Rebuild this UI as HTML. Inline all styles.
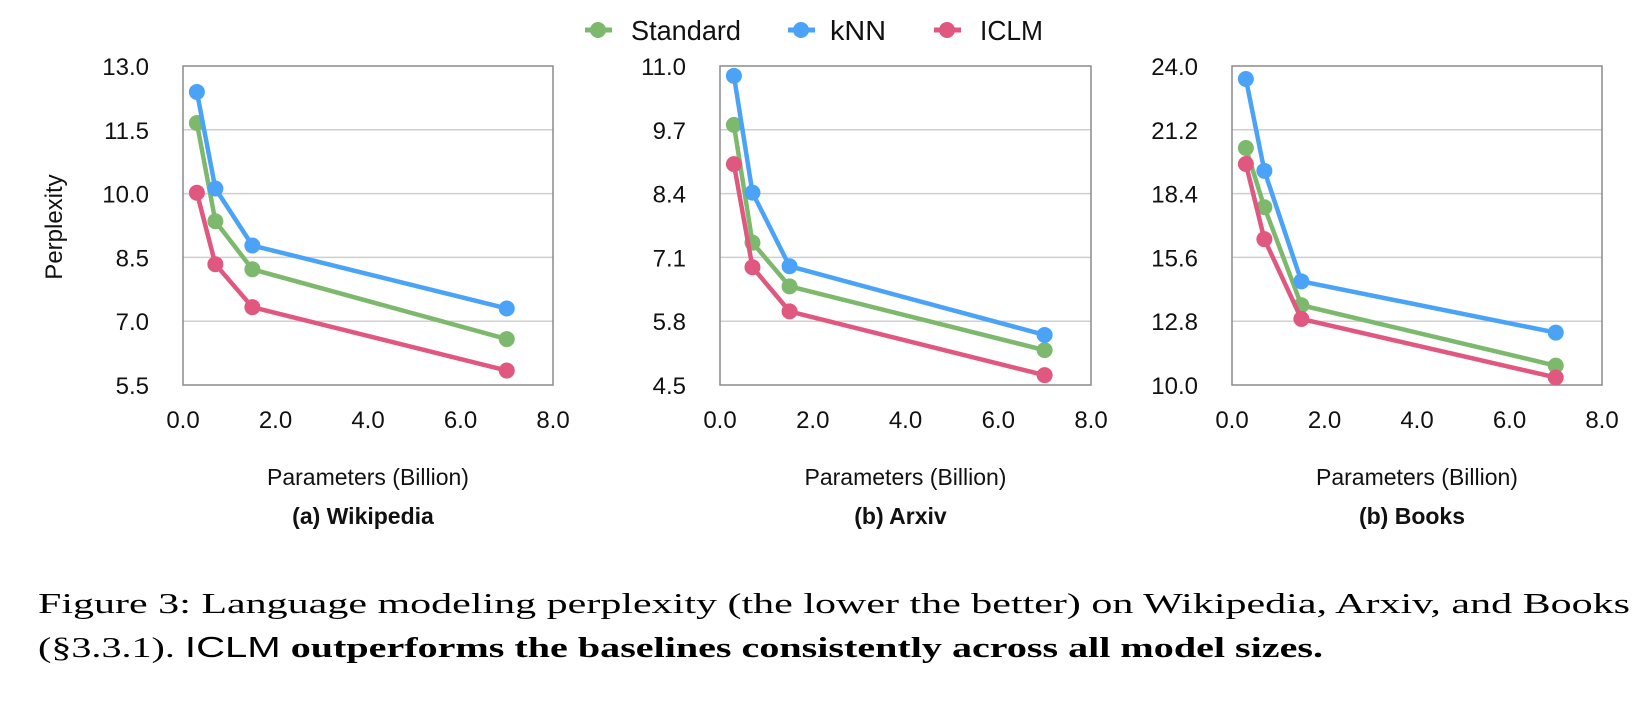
<!DOCTYPE html>
<html><head><meta charset="utf-8"><style>
html,body{margin:0;padding:0;background:#fff;}
svg{display:block;font-family:"Liberation Sans",sans-serif;}
</style></head><body>
<svg id="fig" width="1650" height="711" viewBox="0 0 1650 711" xmlns="http://www.w3.org/2000/svg">
<g>
  <g>
    <line x1="585" y1="30" x2="612" y2="30" stroke="#7db96d" stroke-width="5"/><circle cx="598" cy="30" r="8" fill="#7db96d"/>
    <text x="631" y="40" font-size="28" fill="#111" textLength="110" lengthAdjust="spacingAndGlyphs">Standard</text>
  </g>
  <g>
    <line x1="788" y1="30" x2="815" y2="30" stroke="#4aa3f7" stroke-width="5"/><circle cx="801" cy="30" r="8" fill="#4aa3f7"/>
    <text x="830" y="40" font-size="28" fill="#111" textLength="56" lengthAdjust="spacingAndGlyphs">kNN</text>
  </g>
  <g>
    <line x1="934" y1="30" x2="961" y2="30" stroke="#e0577f" stroke-width="5"/><circle cx="947" cy="30" r="8" fill="#e0577f"/>
    <text x="980" y="40" font-size="28" fill="#111" textLength="63" lengthAdjust="spacingAndGlyphs">ICLM</text>
  </g>
</g>
<text transform="translate(62,227) rotate(-90)" text-anchor="middle" font-size="24" fill="#111">Perplexity</text>
<g font-family="Liberation Serif, serif" font-size="29" fill="#000">
  <text x="38" y="613" textLength="1592" lengthAdjust="spacingAndGlyphs">Figure 3: Language modeling perplexity (the lower the better) on Wikipedia, Arxiv, and Books</text>
  <text x="38" y="657" textLength="1285" lengthAdjust="spacingAndGlyphs">(§3.3.1). <tspan font-family="Liberation Sans, sans-serif">ICLM</tspan> <tspan font-weight="bold">outperforms the baselines consistently across all model sizes.</tspan></text>
</g>
</svg>
<script>
const xValues = [0.3, 0.7, 1.5, 7];
const xTicks = ["0.0","2.0","4.0","6.0","8.0"];
const wikiTicks = ["5.5","7.0","8.5","10.0","11.5","13.0"];
const wikiStandard = [11.66, 9.35, 8.22, 6.58];
const wikiKnn = [12.39, 10.12, 8.78, 7.30];
const wikiIclm = [10.02, 8.34, 7.33, 5.84];
const arxivTicks = ["4.5","5.8","7.1","8.4","9.7","11.0"];
const arxivStandard = [9.8, 7.4, 6.51, 5.21];
const arxivKnn = [10.8, 8.42, 6.92, 5.52];
const arxivIclm = [9.0, 6.9, 6.0, 4.7];
const booksTicks = ["10.0","12.8","15.6","18.4","21.2","24.0"];
const booksStandard = [20.4, 17.8, 13.5, 10.85];
const booksKnn = [23.43, 19.4, 14.55, 12.3];
const booksIclm = [19.7, 16.4, 12.9, 10.33];
const titles = ["(a) Wikipedia","(b) Arxiv","(b) Books"];

const NS = "http://www.w3.org/2000/svg";
const svg = document.getElementById("fig");
function mk(tag, attrs, parent){const e=document.createElementNS(NS,tag);for(const k in attrs)e.setAttribute(k,attrs[k]);(parent||svg).appendChild(e);return e;}

const panels = [
  {left:183, right:553, ticks:wikiTicks, series:[wikiStandard,wikiKnn,wikiIclm], name:"wikipedia"},
  {left:720, right:1091, ticks:arxivTicks, series:[arxivStandard,arxivKnn,arxivIclm], name:"arxiv"},
  {left:1232, right:1602, ticks:booksTicks, series:[booksStandard,booksKnn,booksIclm], name:"books"}
];
const colors = ["#7db96d","#4aa3f7","#e0577f"];
const snames = ["standard","knn","iclm"];
const plotTop = 66, plotBottom = 385;

panels.forEach((p,pi)=>{
  const g = mk("g",{});
  
  
  const ymin = parseFloat(p.ticks[0]), ymax = parseFloat(p.ticks[p.ticks.length-1]);
  const xs = v => p.left + (v-0)/(8-0)*(p.right-p.left);
  const ys = v => plotBottom - (v-ymin)/(ymax-ymin)*(plotBottom-plotTop);
  p.ticks.forEach((t,i)=>{
    const y = ys(parseFloat(t));
    if(i>0 && i<p.ticks.length-1){
      const gl = mk("line",{x1:p.left,x2:p.right,y1:y,y2:y,stroke:"#cfcfcf","stroke-width":1.5},g);
      
      
    }
    const tl = mk("text",{x:p.left-34,y:y+9,"text-anchor":"end","font-size":24,fill:"#111"},g);
    tl.textContent = t;
    
    
  });
  xTicks.forEach(t=>{
    const tl = mk("text",{x:xs(parseFloat(t)),y:428,"text-anchor":"middle","font-size":24,fill:"#111"},g);
    tl.textContent = t;
    
    
  });
  const box = mk("rect",{x:p.left,y:plotTop,width:p.right-p.left,height:plotBottom-plotTop,fill:"none",stroke:"#8a8a8a","stroke-width":1.5},g);
  
  
  p.series.forEach((vals,si)=>{
    const pts = vals.map((v,i)=>xs(xValues[i])+","+ys(v)).join(" ");
    const pl = mk("polyline",{points:pts,fill:"none",stroke:colors[si],"stroke-width":4.5,"stroke-linejoin":"round"},g);
    
    
    vals.forEach((v,i)=>{
      const c = mk("circle",{cx:xs(xValues[i]),cy:ys(v),r:8,fill:colors[si]},g);
      
      
    });
  });
  const cx = (p.left+p.right)/2;
  const at = mk("text",{x:cx,y:485,"text-anchor":"middle","font-size":23,fill:"#111"},g);
  at.textContent = "Parameters (Billion)";
  
  
  const st = mk("text",{x:cx-5,y:524,"text-anchor":"middle","font-size":23,"font-weight":"bold",fill:"#111"},g);
  st.textContent = titles[pi];
  
  
});
</script>
</body></html>
